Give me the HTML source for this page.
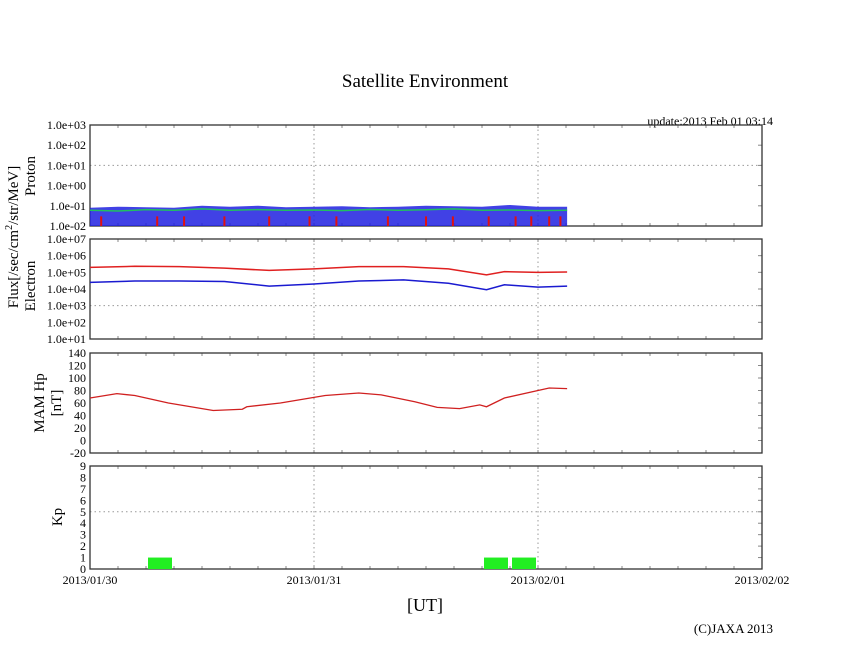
<!DOCTYPE html>
<html><head><meta charset="utf-8"><style>
body{margin:0;background:#fff}
svg{display:block;font-family:"Liberation Serif",serif}
</style></head><body>
<svg id="c" width="846" height="655">
<text x="425" y="87" font-size="19" text-anchor="middle">Satellite Environment</text>
<text x="773" y="125" font-size="12" text-anchor="end">update:2013 Feb 01 03:14</text>
<text x="425" y="611" font-size="18" text-anchor="middle">[UT]</text>
<text x="773" y="633" font-size="13" text-anchor="end">(C)JAXA 2013</text>
<text transform="translate(18,237) rotate(-90)" font-size="15" text-anchor="middle">Flux[/sec/cm<tspan font-size="10" dy="-6">2</tspan><tspan dy="6">/str/MeV]</tspan></text>
<text transform="translate(35,176) rotate(-90)" font-size="15" text-anchor="middle">Proton</text>
<text transform="translate(35,286) rotate(-90)" font-size="15" text-anchor="middle">Electron</text>
<text transform="translate(44,403) rotate(-90)" font-size="15" text-anchor="middle">MAM Hp</text>
<text transform="translate(61,403) rotate(-90)" font-size="15" text-anchor="middle">[nT]</text>
<text transform="translate(62,517) rotate(-90)" font-size="15" text-anchor="middle">Kp</text>
</svg>
<script>
// ---- data (time in days since 2013/01/30 00:00) ----
const xTickLabels=["2013/01/30","2013/01/31","2013/02/01","2013/02/02"];
const protonLogTicks=[-2,-1,0,1,2,3];
const electronLogTicks=[1,2,3,4,5,6,7];
const hpTicks=[-20,0,20,40,60,80,100,120,140];
const kpTicks=[0,1,2,3,4,5,6,7,8,9];
const tGrid=[0,0.125,0.25,0.375,0.5,0.625,0.75,0.875,1,1.125,1.25,1.375,1.5,1.625,1.75,1.875,2,2.13];
const protonBlueHi=[0.08,0.09,0.085,0.08,0.1,0.09,0.1,0.085,0.09,0.095,0.085,0.09,0.1,0.095,0.09,0.11,0.09,0.09];
const protonBlueLo=[0.01,0.01,0.01,0.01,0.01,0.01,0.01,0.01,0.01,0.01,0.01,0.01,0.01,0.01,0.01,0.01,0.01,0.01];
const protonGreen=[0.06,0.055,0.065,0.06,0.07,0.06,0.065,0.06,0.062,0.058,0.066,0.06,0.064,0.07,0.06,0.062,0.058,0.06];
const protonRedSpikeT=[0.05,0.3,0.42,0.6,0.8,0.98,1.1,1.33,1.5,1.62,1.78,1.9,1.97,2.05,2.1];
const electronT=[0,0.2,0.4,0.6,0.8,1.0,1.2,1.4,1.6,1.77,1.85,2.0,2.13];
const electronRed=[2e5,2.3e5,2.2e5,1.8e5,1.3e5,1.6e5,2.2e5,2.2e5,1.6e5,7e4,1.1e5,1e5,1.05e5];
const electronBlue=[2.5e4,3e4,3e4,2.8e4,1.5e4,2e4,3e4,3.5e4,2.2e4,9e3,1.8e4,1.3e4,1.5e4];
const hpT=[0,0.12,0.2,0.35,0.55,0.68,0.7,0.85,1.0,1.05,1.2,1.3,1.45,1.55,1.65,1.74,1.77,1.85,2.0,2.05,2.13];
const hpVal=[68,75,72,60,48,50,54,60,69,72,76,73,62,53,51,57,54,68,80,84,83];
const kpStart=[0.25,1.75,1.875];
const kpVal=[1,1,1];

const svg=document.getElementById('c');
const NS='http://www.w3.org/2000/svg';
const X0=90,X1=762;
const px=t=>X0+(X1-X0)*t/3;
function mk(tag,attrs,parent){const e=document.createElementNS(NS,tag);for(const k in attrs)e.setAttribute(k,attrs[k]);(parent||svg).appendChild(e);return e;}
function panel(name,top,bot,ticks,labelFn,yf,gridVals){
  const g=mk('g',{});
  
  
  [1,2].forEach(d=>mk('line',{x1:px(d),x2:px(d),y1:top,y2:bot,stroke:'#999','stroke-dasharray':'1.5,3'},g));
  gridVals.forEach(v=>mk('line',{x1:X0,x2:X1,y1:yf(v),y2:yf(v),stroke:'#999','stroke-dasharray':'1.5,3'},g));
  for(let i=1;i<24;i++){const x=X0+i*28;mk('line',{x1:x,x2:x,y1:top,y2:top+3,stroke:'#888'},g);mk('line',{x1:x,x2:x,y1:bot,y2:bot-3,stroke:'#888'},g);}
  ticks.forEach(v=>{const y=yf(v);mk('line',{x1:X1,x2:X1-4,y1:y,y2:y,stroke:'#888'},g);
    const t=mk('text',{x:X0-4,y:y+4,'font-size':12,'text-anchor':'end'},g);t.textContent=labelFn(v);
    
    });
  mk('rect',{x:X0,y:top,width:X1-X0,height:bot-top,fill:'none',stroke:'#333','stroke-width':1.3},g);
  return g;
}
const lbl=v=>'1.0e'+(v<0?'-':'+')+String(Math.abs(v)).padStart(2,'0');
// proton
const yP=v=>226-(v+2)*(101/5);
const gP=panel('proton',125,226,protonLogTicks,lbl,yP,[1]);
const yPv=v=>yP(Math.log10(v));
let band='M'+tGrid.map((t,i)=>px(t)+','+yPv(protonBlueHi[i])).join('L')+'L'+tGrid.map((t,i)=>px(t)+','+yPv(protonBlueLo[i])).reverse().join('L')+'Z';
const pb=mk('path',{d:band,fill:'#2020e0',opacity:0.85},gP);


protonRedSpikeT.forEach(t=>{const l=mk('line',{x1:px(t),x2:px(t),y1:226,y2:yPv(0.03),stroke:'#e01010','stroke-width':2},gP);
  
  });
const pg=mk('polyline',{points:tGrid.map((t,i)=>px(t)+','+yPv(protonGreen[i])).join(' '),fill:'none',stroke:'#20c060','stroke-width':1.5},gP);


// electron
const yE=v=>339-(v-1)*(100/6);
const gE=panel('electron',239,339,electronLogTicks,lbl,yE,[3]);
[[electronRed,'#e02020','electron-red-series'],[electronBlue,'#1a1ad0','electron-blue-series']].forEach(([arr,c,n])=>{
  const p=mk('polyline',{points:electronT.map((t,i)=>px(t)+','+yE(Math.log10(arr[i]))).join(' '),fill:'none',stroke:c,'stroke-width':1.5},gE);
  
  });
// hp
const yH=v=>453-(v+20)*(100/160);
const gH=panel('hp',353,453,hpTicks,v=>String(v),yH,[]);
const hp=mk('polyline',{points:hpT.map((t,i)=>px(t)+','+yH(hpVal[i])).join(' '),fill:'none',stroke:'#d02020','stroke-width':1.3},gH);


// kp
const yK=v=>569-v*(103/9);
const gK=panel('kp',466,569,kpTicks,v=>String(v),yK,[5]);
kpStart.forEach((t,i)=>{const r=mk('rect',{x:px(t)+2,y:yK(kpVal[i]),width:px(0.125)-X0-4,height:569-yK(kpVal[i]),fill:'#22ee22'},gK);
  
  });
xTickLabels.forEach((s,i)=>{const t=mk('text',{x:px(i),y:584,'font-size':12,'text-anchor':'middle'});t.textContent=s;
  
  });
</script>
</body></html>
